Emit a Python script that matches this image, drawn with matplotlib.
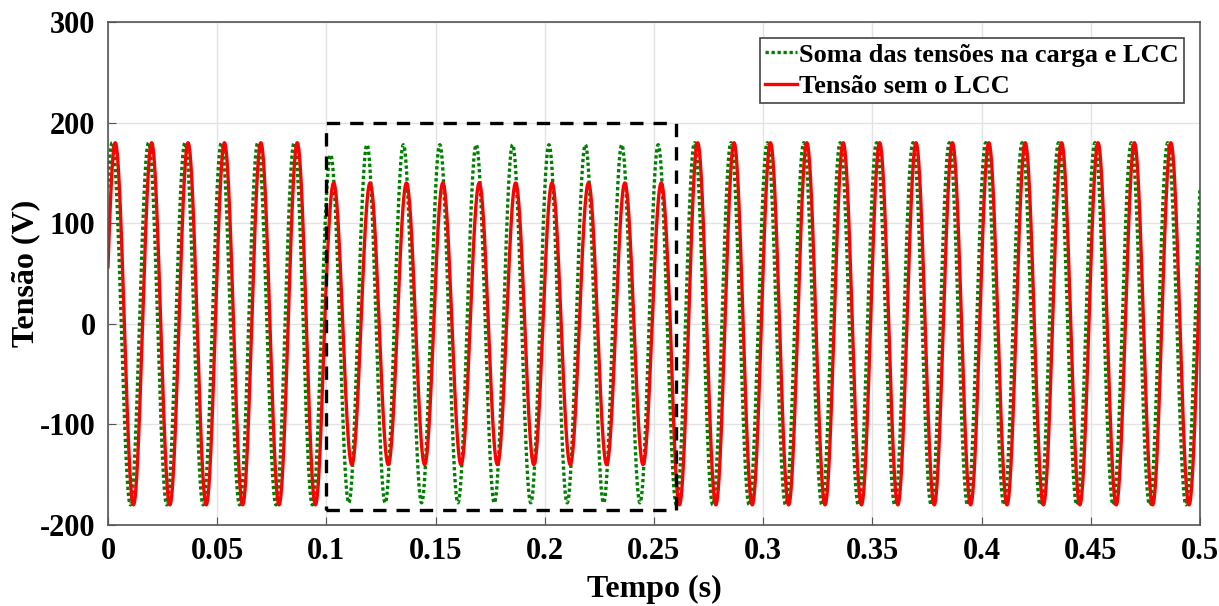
import numpy as np
import matplotlib.pyplot as plt
from matplotlib.patches import Rectangle

plt.rcParams['font.family'] = ['Liberation Serif', 'DejaVu Serif']
plt.rcParams['font.weight'] = 'bold'
plt.rcParams['axes.unicode_minus'] = False

# sinal da rede
freq = 60.0           # Hz, 30 ciclos em 0.5 s
t_end = 0.5
phase_green = 0.85    # rad
phase_red = 0.32      # rad

# envoltoria de amplitude: inicio de cada trecho (s) e pico (V)
green_seg_start = [0.0, 0.0978, 0.1061, 0.2578]
green_seg_peak = [180, 168, 178, 180]
red_seg_start = [0.0, 0.0992, 0.2575]
red_seg_peak = [180, 140, 180]

# caixa tracejada (regiao com LCC)
box_t = [0.1, 0.26]
box_v = [-185, 200]

t = np.linspace(0, t_end, 20001)
w = 2 * np.pi * freq


def envelope(starts, peaks):
    idx = np.searchsorted(starts, t, side='right') - 1
    return np.array(peaks)[idx]


v_green = envelope(green_seg_start, green_seg_peak) * np.sin(w * t + phase_green)
v_red = envelope(red_seg_start, red_seg_peak) * np.sin(w * t + phase_red)

fig = plt.figure(figsize=(12.19, 6.06), dpi=100)
ax = fig.add_axes([0.0886, 0.1337, 0.8958, 0.83])

ax.plot(t, v_green, color='#008000', linestyle=(0, (1, 0.8)), linewidth=2.4,
        label='Soma das tensões na carga e LCC')
ax.plot(t, v_red, color='#ff0000', linewidth=2.4, label='Tensão sem o LCC')

ax.add_patch(Rectangle((box_t[0], box_v[0]), box_t[1] - box_t[0], box_v[1] - box_v[0],
                       fill=False, edgecolor='black', linestyle=(0, (4, 3)), linewidth=2.4,
                       zorder=5))

ax.set_xlim(0, 0.5)
ax.set_ylim(-200, 300)
ax.set_xticks(np.arange(0, 0.51, 0.05))
ax.set_xticklabels(['0', '0.05', '0.1', '0.15', '0.2', '0.25', '0.3', '0.35',
                    '0.4', '0.45', '0.5'])
ax.set_yticks(np.arange(-200, 301, 100))
ax.grid(True, color='#e3e3e3', linewidth=1.0)
ax.set_axisbelow(True)
ax.tick_params(direction='in', labelsize=22, length=6, color='#555555')
ax.tick_params(axis='x', pad=9)
ax.tick_params(axis='y', pad=9)
for lab in ax.get_xticklabels() + ax.get_yticklabels():
    lab.set_fontweight('bold')
for s in ax.spines.values():
    s.set_color('#555555')
    s.set_linewidth(1.2)

ax.set_xlabel('Tempo (s)', fontsize=23, fontweight='bold', labelpad=6)
ax.set_ylabel('Tensão (V)', fontsize=23, fontweight='bold', labelpad=0)

leg = ax.legend(loc='upper right', fontsize=19, handlelength=1.2, handletextpad=0.1,
                borderpad=0.2, labelspacing=0.3, fancybox=False, framealpha=1,
                edgecolor='#444444', borderaxespad=0.6)
leg.get_frame().set_linewidth(1.2)
for txt in leg.get_texts():
    txt.set_fontweight('bold')

fig.savefig('out.png', dpi=100)
